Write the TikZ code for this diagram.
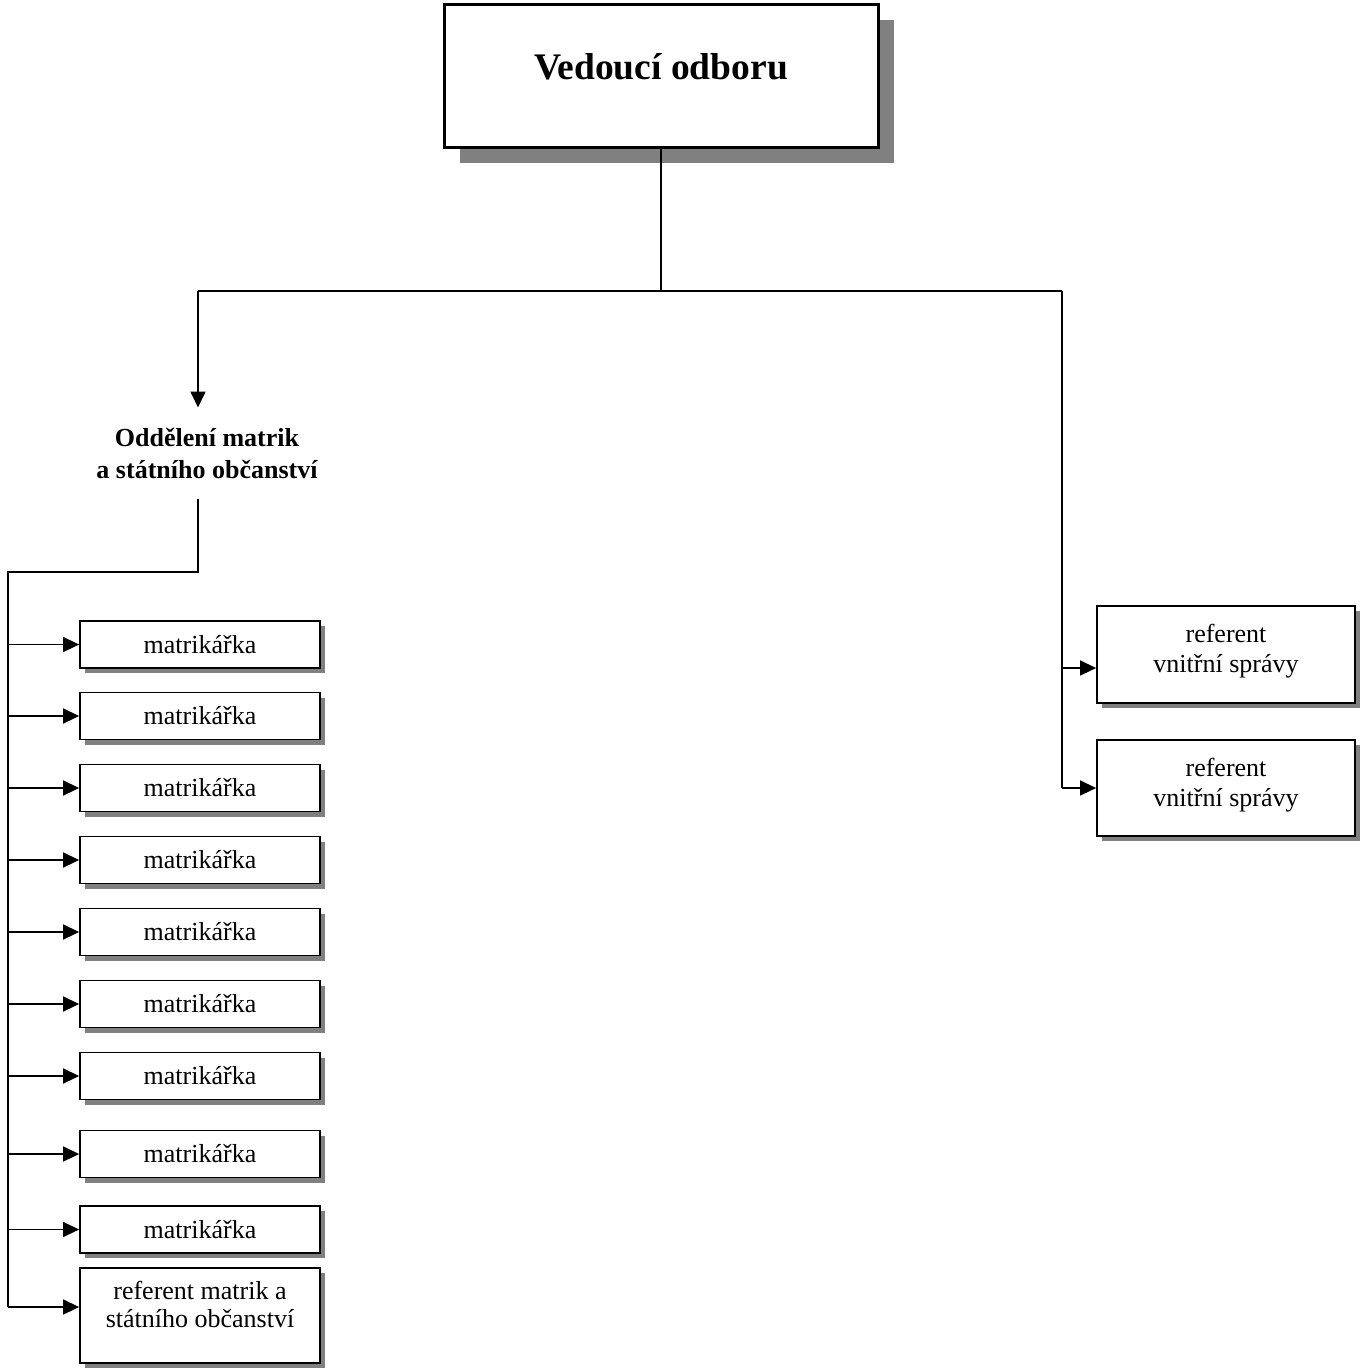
\documentclass[tikz,border=0pt]{standalone}
\usepackage{fontspec}
\setmainfont{Liberation Serif}
\usepackage{tikz}
\usetikzlibrary{arrows.meta,positioning,shadows}
\definecolor{shgray}{RGB}{128,128,128}

\begin{document}
\begin{tikzpicture}[
  x=1pt, y=-1pt,
  box/.style={draw, line width=1.8pt, fill=white, align=center,
              font=\fontsize{26}{30}\selectfont, inner sep=2pt,
              drop shadow={shadow xshift=5pt, shadow yshift=-5pt, fill=shgray, opacity=1}},
  head/.style={draw, line width=3pt, fill=white, font=\fontsize{37.5}{44}\selectfont\bfseries,
               minimum width=434pt, minimum height=143pt,
               drop shadow={shadow xshift=16pt, shadow yshift=-16pt, fill=shgray, opacity=1}},
  mbox/.style={box, minimum width=240pt, minimum height=47pt},
  rbox/.style={box, minimum width=258pt, minimum height=96pt},
  dept/.style={align=center, font=\fontsize{26}{32}\selectfont\bfseries, inner sep=20pt},
  line/.style={line width=1.6pt},
  arr/.style={line width=1.6pt, -{Triangle[length=16pt, width=15pt]}}
]
\useasboundingbox (0,0) rectangle (1361,1369);

\node[head, text depth=18pt] (ved) at (661,75.5) {Vedoucí odboru};

\node[dept] (odd) at (207,453) {Oddělení matrik\\a státního občanství};

\node[mbox] (m1) at (200,644.5) {matrikářka};
\node[mbox] (m2) at (200,716)   {matrikářka};
\node[mbox] (m3) at (200,788)   {matrikářka};
\node[mbox] (m4) at (200,860)   {matrikářka};
\node[mbox] (m5) at (200,932)   {matrikářka};
\node[mbox] (m6) at (200,1004)  {matrikářka};
\node[mbox] (m7) at (200,1076)  {matrikářka};
\node[mbox] (m8) at (200,1154)  {matrikářka};
\node[mbox] (m9) at (200,1229.5){matrikářka};
\node[mbox, font=\fontsize{26}{28}\selectfont, minimum height=95pt, text depth=22pt] (rm) at (200,1315.5) {referent matrik a\\státního občanství};

\node[rbox, minimum height=97pt, text depth=12pt] (rv1) at (1226,654.5) {referent\\vnitřní správy};
\node[rbox, text depth=11pt] (rv2) at (1226,788) {referent\\vnitřní správy};

\coordinate (lbr) at (198,291);
\coordinate (rbr) at (1062,291);
\coordinate (bus) at (8,572);

\draw[line] (ved.south) -- (ved.south |- lbr);
\draw[line] (lbr) -- (rbr);
\draw[arr] (lbr) -- (lbr |- odd.north);
\draw[line] (lbr |- odd.south) -- (lbr |- bus) -- (bus) -- (bus |- 0,1307);

\draw[arr] (bus |- m1) -- (m1);
\draw[arr] (bus |- m2) -- (m2);
\draw[arr] (bus |- m3) -- (m3);
\draw[arr] (bus |- m4) -- (m4);
\draw[arr] (bus |- m5) -- (m5);
\draw[arr] (bus |- m6) -- (m6);
\draw[arr] (bus |- m7) -- (m7);
\draw[arr] (bus |- m8) -- (m8);
\draw[arr] (bus |- m9) -- (m9);
\draw[arr] (bus |- 0,1307) -- (rm.west |- 0,1307);

\draw[line] (rbr) -- (rbr |- rv2);
\draw[arr] (rbr |- 0,668) -- (rv1.west |- 0,668);
\draw[arr] (rbr |- rv2) -- (rv2);
\end{tikzpicture}
\end{document}
